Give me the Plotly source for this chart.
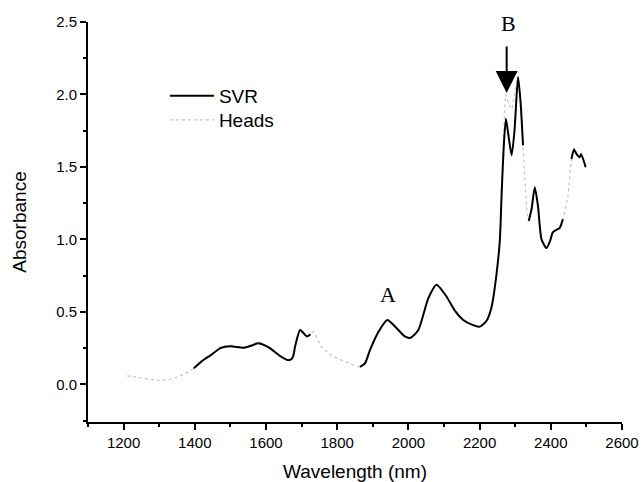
import plotly.graph_objects as go

wavelength = [1210, 1250, 1290, 1320, 1345, 1370, 1397, 1420, 1444, 1472, 1500, 1537, 1560, 1579, 1595,
              1612, 1640, 1663, 1672, 1677, 1682, 1696, 1715, 1725, 1734, 1743, 1757, 1790, 1836, 1864,
              1878, 1892, 1916, 1941, 1967, 1990, 2005, 2028, 2056, 2079, 2107, 2130, 2154, 2180, 2201,
              2220, 2234, 2248, 2257, 2262, 2268, 2274, 2282, 2290, 2298, 2308, 2315, 2322, 2332, 2338,
              2346, 2355, 2364, 2374, 2388, 2398, 2406, 2425, 2434, 2448, 2458, 2465, 2472, 2481, 2485,
              2498]

svr = [None, None, None, None, None, None, 0.11, 0.16, 0.20, 0.25, 0.262, 0.252, 0.268, 0.283, 0.27,
       0.248, 0.195, 0.167, 0.175, 0.20, 0.264, 0.375, 0.33, 0.345, None, None, None, None, None, 0.12,
       0.144, 0.236, 0.363, 0.444, 0.387, 0.33, 0.32, 0.375, 0.595, 0.6875, 0.606, 0.51, 0.444, 0.41, 0.398,
       0.44, 0.537, 0.77, 1.0, 1.32, 1.65, 1.833, 1.70, 1.58, 1.75, 2.12, 1.95, 1.65, None, 1.127,
       1.21, 1.36, 1.23, 1.0, 0.94, 0.99, 1.05, 1.08, 1.14, None, 1.555, 1.62, 1.59, 1.567, 1.59,
       1.498]

heads = [0.058, 0.045, 0.03, 0.03, 0.045, 0.07, 0.11, 0.16, 0.20, 0.255, 0.27, 0.255, 0.275, 0.295, 0.275,
         0.25, 0.195, 0.167, 0.175, 0.20, 0.264, 0.375, 0.33, 0.345, 0.363, 0.32, 0.255, 0.19, 0.144, 0.12,
         0.144, 0.236, 0.363, 0.45, 0.387, 0.33, 0.32, 0.375, 0.595, 0.69, 0.606, 0.51, 0.444, 0.41, 0.398,
         0.44, 0.537, 0.77, 1.0, 1.35, 1.75, 2.0, 1.93, 1.9, 2.0, 2.12, 1.95, 1.65, 1.23, 1.127,
         1.21, 1.36, 1.23, 1.0, 0.94, 0.99, 1.05, 1.08, 1.14, 1.30, 1.555, 1.63, 1.60, 1.567, 1.59,
         1.498]

x_ticks = [1200, 1400, 1600, 1800, 2000, 2200, 2400, 2600]
y_ticks = [0.0, 0.5, 1.0, 1.5, 2.0, 2.5]

fig = go.Figure()
fig.add_trace(go.Scatter(x=wavelength, y=heads, mode="lines", name="Heads", legend="legend2",
                         line=dict(color="#c4c4c4", width=1.2, dash="dot", shape="spline", smoothing=0.6)))
fig.add_trace(go.Scatter(x=wavelength, y=svr, mode="lines", name="SVR", legend="legend",
                         line=dict(color="black", width=2, shape="spline", smoothing=0.6),
                         connectgaps=False))

fig.add_annotation(x=1943, y=0.62, xref="x", yref="y", text="A", showarrow=False,
                   font=dict(family="Liberation Serif", size=22, color="black"))
fig.add_annotation(x=2280, y=2.49, xref="x", yref="y", text="B", showarrow=False,
                   font=dict(family="Liberation Serif", size=22, color="black"))
fig.add_annotation(x=2276, y=2.01, xref="x", yref="y", text="", showarrow=True,
                   ax=0, ay=-48, arrowhead=2, arrowsize=2.2, arrowwidth=2, arrowcolor="black",
                   standoff=0)

axis_font = dict(family="Liberation Sans, Arial", size=15, color="black")
leg_font = dict(family="Liberation Sans, Arial", size=19, color="black")
fig.update_layout(
    width=641, height=482,
    margin=dict(l=88, r=19, t=22, b=60, autoexpand=False),
    paper_bgcolor="white", plot_bgcolor="white",
    font=dict(family="Liberation Sans, Arial", color="black"),
    showlegend=True,
    legend=dict(x=0.144, y=0.815, xanchor="left", yanchor="middle", font=leg_font,
                bgcolor="rgba(0,0,0,0)", itemwidth=44),
    legend2=dict(x=0.144, y=0.755, xanchor="left", yanchor="middle", font=leg_font,
                 bgcolor="rgba(0,0,0,0)", itemwidth=44),
    xaxis=dict(range=[1100, 2600], tickvals=x_ticks, ticktext=[str(v) for v in x_ticks],
               automargin=False,
               showgrid=False, zeroline=False, showline=True, linecolor="black", linewidth=2,
               ticks="outside", ticklen=6, tickwidth=2, tickcolor="black", tickfont=axis_font,
               minor=dict(dtick=100, tick0=1100, ticks="outside", ticklen=3, tickwidth=2, tickcolor="black"),
               title=dict(text="Wavelength (nm)", font=dict(family="Liberation Sans, Arial", size=19),
                          standoff=18)),
    yaxis=dict(range=[-0.26, 2.5], tickvals=y_ticks, ticktext=[f"{v:.1f}" for v in y_ticks],
               automargin=False,
               showgrid=False, zeroline=False, showline=True, linecolor="black", linewidth=2,
               ticks="outside", ticklen=6, tickwidth=2, tickcolor="black", tickfont=axis_font,
               minor=dict(dtick=0.25, tick0=0, ticks="outside", ticklen=3, tickwidth=2, tickcolor="black"),
               title=dict(text="Absorbance", font=dict(family="Liberation Sans, Arial", size=19),
                          standoff=24)),
)

fig.write_html("out.html", config={"displayModeBar": False},
               post_script="document.body.style.margin='0';")
